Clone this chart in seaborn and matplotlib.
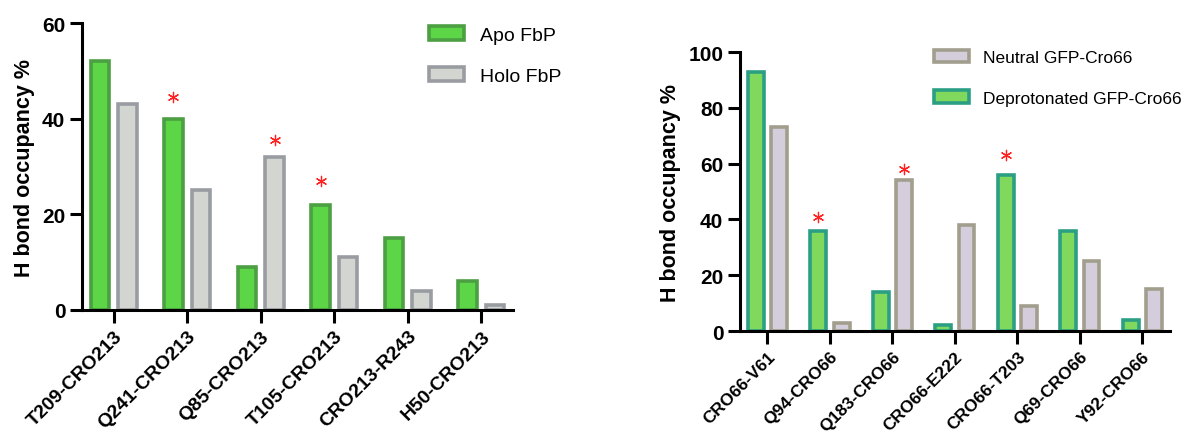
import matplotlib
matplotlib.use("Agg")
import matplotlib.pyplot as plt
import matplotlib.patches as mpatches
import seaborn as sns
import pandas as pd

# FbP panel
fbp_pairs = ["T209-CRO213", "Q241-CRO213", "Q85-CRO213", "T105-CRO213", "CRO213-R243", "H50-CRO213"]
apo_fbp = [52, 40, 9, 22, 15, 6]
holo_fbp = [43, 25, 32, 11, 4, 1]
# (pair index, state, star height)
fbp_stars = [(1, "Apo FbP", 44.5), (2, "Holo FbP", 35.5), (3, "Apo FbP", 27)]

# GFP panel
gfp_pairs = ["CRO66-V61", "Q94-CRO66", "Q183-CRO66", "CRO66-E222", "CRO66-T203", "Q69-CRO66", "Y92-CRO66"]
deprot_gfp = [93, 36, 14, 2, 56, 36, 4]
neutral_gfp = [73, 3, 54, 38, 9, 25, 15]
gfp_stars = [(1, "Deprotonated GFP-Cro66", 41), (2, "Neutral GFP-Cro66", 58), (4, "Deprotonated GFP-Cro66", 63)]

sns.set_style("ticks")
plt.rcParams["font.family"] = ["Liberation Sans", "DejaVu Sans"]
plt.rcParams["text.color"] = "black"
plt.rcParams["axes.labelcolor"] = "black"
plt.rcParams["xtick.color"] = "black"
plt.rcParams["ytick.color"] = "black"
plt.rcParams["axes.edgecolor"] = "black"

styles = {
    "Apo FbP": ("#5cd546", "#4c9f42"),
    "Holo FbP": ("#d3d6d0", "#999ca1"),
    "Neutral GFP-Cro66": ("#d4cedc", "#a29e8e"),
    "Deprotonated GFP-Cro66": ("#80d85c", "#2b9f84"),
}

fig = plt.figure(figsize=(11.92, 4.39), dpi=100)
ax1 = fig.add_axes([0.0688, 0.2916, 0.3616, 0.6537])
ax2 = fig.add_axes([0.6208, 0.2437, 0.3607, 0.6355])


def draw_panel(ax, pairs, series, order, legend_order, stars, ymax, xlim, xfont):
    rows = []
    for name, vals in series.items():
        for p, v in zip(pairs, vals):
            rows.append({"pair": p, "state": name, "occ": v})
    df = pd.DataFrame(rows)
    sns.barplot(data=df, x="pair", y="occ", hue="state", hue_order=order, order=pairs,
                palette={k: styles[k][0] for k in order}, width=0.75, gap=1 / 3,
                linewidth=2.6, legend=False, ax=ax, zorder=2)
    for name, cont in zip(order, ax.containers):
        for bar in cont:
            bar.set_edgecolor(styles[name][1])
            bar.set_facecolor(styles[name][0])
    for idx, name, h in stars:
        bar = ax.containers[order.index(name)][idx]
        ax.scatter(bar.get_x() + bar.get_width() / 2, h, marker=(6, 2, 0), s=55,
                   color="#ff2020", linewidths=0.9, zorder=3)
    ax.set_ylim(0, ymax)
    ax.set_yticks(range(0, ymax + 1, 20))
    ax.set_xlim(*xlim)
    ax.set_xlabel("")
    ax.set_ylabel("H bond occupancy %", fontsize=15.5, fontweight="bold", labelpad=5)
    sns.despine(ax=ax)
    for s in ["left", "bottom"]:
        ax.spines[s].set_linewidth(2.2)
        ax.spines[s].set_zorder(4)
    ax.tick_params(axis="both", length=9, width=2.2, labelsize=15)
    ax.tick_params(axis="y", pad=3)
    for lab in ax.get_yticklabels():
        lab.set_fontweight("bold")
    ax.set_xticks(range(len(pairs)))
    ax.set_xticklabels(pairs, rotation=45, ha="right", rotation_mode="anchor",
                       fontsize=xfont, fontweight="bold")
    handles = [mpatches.Patch(facecolor=styles[k][0], edgecolor=styles[k][1], linewidth=2.6, label=k)
               for k in legend_order]
    return handles


h1 = draw_panel(ax1, fbp_pairs, {"Apo FbP": apo_fbp, "Holo FbP": holo_fbp},
                ["Apo FbP", "Holo FbP"], ["Apo FbP", "Holo FbP"], fbp_stars, 60, (-0.43, 5.43), 14)
ax1.legend(handles=h1, loc="upper left", bbox_to_anchor=(0.765, 1.05), frameon=False,
           fontsize=14, handlelength=1.8, handleheight=0.7, labelspacing=1.2, handletextpad=0.8)

h2 = draw_panel(ax2, gfp_pairs, {"Deprotonated GFP-Cro66": deprot_gfp, "Neutral GFP-Cro66": neutral_gfp},
                ["Deprotonated GFP-Cro66", "Neutral GFP-Cro66"],
                ["Neutral GFP-Cro66", "Deprotonated GFP-Cro66"], gfp_stars, 100, (-0.44, 6.44), 12.5)
ax2.legend(handles=h2, loc="upper left", bbox_to_anchor=(0.415, 1.065), frameon=False,
           fontsize=12.5, handlelength=2.0, handleheight=0.75, labelspacing=1.45, handletextpad=0.8)

fig.savefig("out.png", dpi=100)
